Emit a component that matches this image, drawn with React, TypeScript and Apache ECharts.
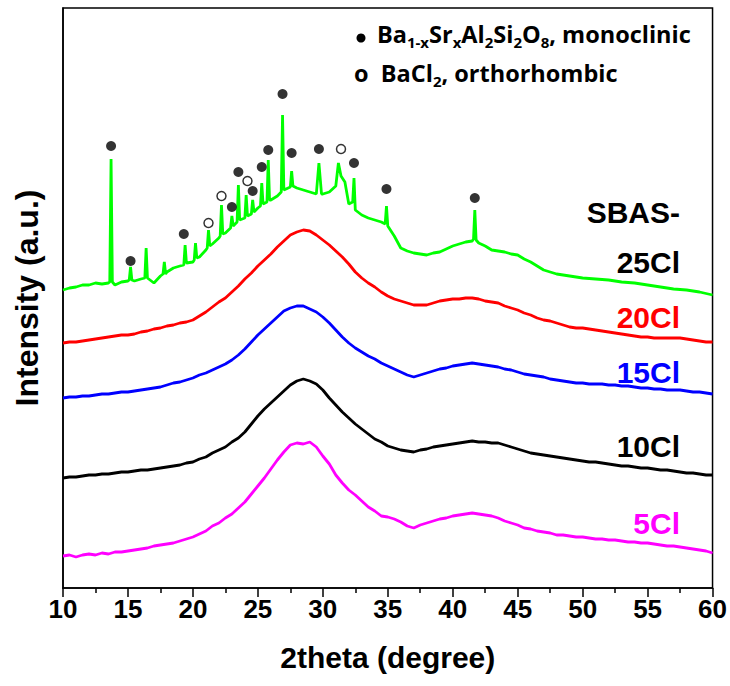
import React, { useEffect, useRef } from "react";
import * as echarts from "echarts";

// 2theta grid (degree) shared by the four smooth patterns
const twoTheta = [
  10, 10.5, 11, 11.5, 12, 12.5, 13, 13.5, 14, 14.5, 15, 15.5, 16, 16.5, 17, 17.5, 18, 18.5, 19, 19.5,
  20, 20.5, 21, 21.5, 22, 22.5, 23, 23.5, 24, 24.5, 25, 25.5, 26, 26.5, 27, 27.5, 28, 28.5, 29, 29.5,
  30, 30.5, 31, 31.5, 32, 32.5, 33, 33.5, 34, 34.5, 35, 35.5, 36, 36.5, 37, 37.5, 38, 38.5, 39, 39.5,
  40, 40.5, 41, 41.5, 42, 42.5, 43, 43.5, 44, 44.5, 45, 45.5, 46, 46.5, 47, 47.5, 48, 48.5, 49, 49.5,
  50, 50.5, 51, 51.5, 52, 52.5, 53, 53.5, 54, 54.5, 55, 55.5, 56, 56.5, 57, 57.5, 58, 58.5, 59, 59.5, 60,
];

const cl5 = [
  32, 33, 31, 33, 34, 33, 35, 34, 36, 36, 37, 38, 39, 40, 42, 43, 44, 45, 47, 49,
  51, 54, 57, 62, 65, 70, 74, 80, 86, 94, 102, 110, 119, 128, 136, 143, 145, 144, 146, 141,
  132, 124, 113, 105, 98, 93, 87, 81, 77, 72, 71, 69, 66, 62, 60, 63, 65, 67, 69, 70,
  72, 73, 74, 75, 74, 73, 72, 70, 67, 65, 63, 60, 59, 57, 56, 55, 53, 53, 52, 51,
  51, 50, 49, 49, 48, 48, 47, 46, 46, 45, 45, 44, 43, 42, 42, 41, 40, 39, 38, 37, 35,
];

const cl10 = [
  110, 111, 111, 112, 113, 113, 114, 114, 115, 116, 116, 117, 118, 118, 119, 120, 121, 122, 123, 125,
  126, 129, 131, 135, 138, 141, 146, 150, 156, 164, 172, 179, 185, 191, 197, 203, 207, 209, 207, 204,
  198, 190, 183, 176, 170, 164, 159, 154, 149, 146, 142, 140, 138, 137, 136, 138, 139, 141, 142, 143,
  144, 145, 146, 147, 146, 146, 145, 145, 143, 141, 139, 137, 135, 134, 133, 132, 131, 130, 129, 128,
  127, 126, 126, 125, 124, 123, 122, 122, 121, 120, 120, 119, 118, 118, 117, 116, 115, 115, 114, 113, 113,
];

const cl15 = [
  190, 191, 191, 192, 192, 193, 194, 194, 195, 196, 196, 197, 198, 199, 200, 201, 203, 205, 206, 208,
  210, 213, 215, 218, 221, 224, 228, 233, 239, 246, 253, 259, 265, 271, 277, 280, 282, 282, 279, 276,
  271, 265, 258, 251, 245, 240, 236, 232, 229, 225, 222, 219, 216, 213, 211, 213, 215, 217, 219, 220,
  222, 223, 224, 225, 224, 223, 222, 221, 219, 218, 216, 214, 213, 212, 211, 209, 208, 207, 206, 205,
  205, 204, 204, 204, 203, 203, 202, 202, 201, 200, 200, 199, 199, 198, 198, 198, 197, 196, 196, 195, 194,
];

const cl20 = [
  245, 246, 246, 247, 248, 249, 250, 251, 252, 253, 253, 254, 256, 257, 259, 260, 262, 263, 265, 266,
  268, 272, 276, 281, 286, 290, 296, 302, 309, 315, 322, 328, 334, 341, 347, 353, 356, 358, 357, 353,
  348, 343, 337, 331, 324, 316, 310, 305, 301, 296, 292, 289, 287, 285, 283, 283, 283, 285, 287, 288,
  289, 289, 290, 290, 289, 287, 286, 285, 282, 280, 278, 275, 273, 270, 268, 267, 265, 263, 261, 260,
  260, 259, 258, 257, 256, 255, 254, 253, 252, 251, 251, 250, 250, 250, 250, 250, 249, 248, 247, 246, 246,
];

// 25Cl pattern has sharp crystalline reflections, so it has its own 2theta list
const theta25 = [
  10, 10.5, 11, 11.5, 12, 12.5, 13, 13.5, 13.6, 13.7, 13.8, 14, 14.5, 15, 15.1, 15.2, 15.3, 15.5, 16, 16.3,
  16.4, 16.5, 17, 17.5, 17.7, 17.8, 17.9, 18, 18.5, 19, 19.3, 19.4, 19.5, 20, 20.1, 20.2, 20.3, 20.5, 21, 21.1,
  21.2, 21.3, 21.5, 22, 22.1, 22.2, 22.3, 22.5, 22.9, 23, 23.1, 23.4, 23.5, 23.6, 24, 24.1, 24.2, 24.5, 24.6, 24.7,
  25, 25.2, 25.3, 25.4, 25.7, 25.8, 25.9, 26, 26.5, 26.8, 26.9, 27, 27.5, 27.6, 27.7, 28, 28.5, 29, 29.5, 29.7,
  29.9, 30, 30.5, 31, 31.2, 31.4, 31.7, 32, 32.3, 32.4, 32.5, 33, 33.5, 34, 34.5, 34.8, 34.9, 35, 35.5, 36,
  36.5, 37, 37.5, 38, 38.5, 39, 39.5, 40, 40.5, 41, 41.5, 41.6, 41.7, 41.8, 42, 42.5, 43, 43.5, 44, 44.5,
  45, 45.5, 46, 46.5, 47, 47.5, 48, 49, 50, 51, 52, 53, 54, 55, 56, 57, 58, 59, 60,
];
const cl25 = [
  298, 300, 301, 303, 303, 305, 304, 305, 306, 429, 306, 303, 306, 307, 308, 321, 308, 307, 309, 310,
  340, 310, 305, 312, 314, 326, 314, 316, 320, 322, 323, 343, 325, 326, 328, 345, 330, 331, 338, 340,
  358, 342, 344, 350, 352, 383, 354, 355, 360, 372, 362, 366, 403, 368, 370, 393, 372, 374, 388, 376,
  380, 382, 405, 384, 386, 428, 388, 388, 392, 396, 473, 398, 401, 417, 402, 400, 398, 396, 394, 425,
  394, 394, 396, 402, 425, 412, 406, 384, 386, 410, 378, 373, 370, 368, 366, 364, 382, 362, 352, 340,
  337, 335, 334, 333, 335, 336, 339, 342, 344, 346, 347, 349, 378, 348, 345, 342, 338, 337, 336, 334,
  333, 329, 326, 322, 318, 316, 314, 312, 310, 309, 308, 306, 305, 303, 301, 299, 298, 296, 293,
];

// phase markers: Ba1-xSrxAl2Si2O8 (filled) and BaCl2 (open)
const monoTheta = [13.7, 15.2, 19.3, 23.0, 23.5, 24.6, 25.3, 25.8, 26.9, 27.6, 29.7, 32.4, 34.9, 41.7];
const monoMark = [442, 327, 354, 381, 416, 397, 421, 438, 494, 435, 439, 425, 399, 390];
const orthoTheta = [21.2, 22.2, 24.2, 31.4];
const orthoMark = [365, 392, 407, 439];

const xTicks = [10, 15, 20, 25, 30, 35, 40, 45, 50, 55, 60];

const sampleNames = ["25Cl", "20Cl", "15Cl", "10Cl", "5Cl"];
const sampleColors = ["#00ff00", "#ff0000", "#0000ff", "#000000", "#ff00ff"];

const pairs = (xs: number[], ys: number[]) => xs.map((x, i) => [x, ys[i]]);

export default function App() {
  const ref = useRef<HTMLDivElement>(null);
  useEffect(() => {
    document.body.style.margin = "0";
    const chart = echarts.init(ref.current!, null, { renderer: "svg" });
    const curves = [
      pairs(theta25, cl25),
      pairs(twoTheta, cl20),
      pairs(twoTheta, cl15),
      pairs(twoTheta, cl10),
      pairs(twoTheta, cl5),
    ];
    const lab = (text: string, y: number, color: string) => ({
      type: "text",
      x: 680,
      y,
      style: {
        text,
        fill: color,
        font: 'bold 30px "Liberation Sans", Arial, sans-serif',
        textAlign: "right",
        textVerticalAlign: "middle",
        align: "right",
        verticalAlign: "middle",
      },
    });
    const legFont = '"Open Sans", "Noto Sans", sans-serif';
    const legRich = {
      m: { fontFamily: legFont, fontWeight: "bold", fontSize: 23.5, fill: "#000", verticalAlign: "top" },
      s: { fontFamily: legFont, fontWeight: "bold", fontSize: 15, fill: "#000", verticalAlign: "top", padding: [12, 0, 0, 0] },
    };
    chart.setOption({
      animation: false,
      grid: { left: 63, right: 17, top: 8, bottom: 98, show: true, borderColor: "#000", borderWidth: 1.5 },
      xAxis: {
        type: "value",
        min: 10,
        max: 60,
        interval: 5,
        name: "2theta (degree)",
        nameLocation: "middle",
        nameGap: 54,
        nameTextStyle: { fontFamily: '"Liberation Sans", Arial', fontWeight: "bold", fontSize: 30, color: "#000" },
        axisLine: { show: true, onZero: false, lineStyle: { color: "#000", width: 1.5 } },
        axisTick: { show: true, inside: false, length: 9, lineStyle: { color: "#000", width: 1.5 } },
        minorTick: { show: true, splitNumber: 2, length: 5, lineStyle: { color: "#000", width: 1.5 } },
        splitLine: { show: false },
        axisLabel: {
          margin: 8,
          fontFamily: '"Liberation Sans", Arial',
          fontWeight: "bold",
          fontSize: 26,
          color: "#000",
          formatter: (v: number) => (xTicks.includes(v) ? String(v) : ""),
        },
      },
      yAxis: {
        type: "value",
        min: 0,
        max: 580,
        name: "Intensity (a.u.)",
        nameLocation: "middle",
        nameGap: 20,
        nameTextStyle: { fontFamily: '"Liberation Sans", Arial', fontWeight: "bold", fontSize: 32, color: "#000" },
        axisLine: { show: true, lineStyle: { color: "#000", width: 1.5 } },
        axisTick: { show: false },
        axisLabel: { show: false },
        splitLine: { show: false },
      },
      series: [
        ...curves.map((d, i) => ({
          type: "line",
          name: sampleNames[i],
          data: d,
          showSymbol: false,
          symbol: "none",
          lineStyle: { color: sampleColors[i], width: 2.8 },
          z: 2 + i,
        })),
        {
          type: "scatter",
          name: "monoclinic",
          data: pairs(monoTheta, monoMark),
          symbol: "circle",
          symbolSize: 10,
          itemStyle: { color: "#000" },
          z: 10,
        },
        {
          type: "scatter",
          name: "orthorhombic",
          data: pairs(orthoTheta, orthoMark),
          symbol: "circle",
          symbolSize: 9,
          itemStyle: { color: "#fff", borderColor: "#000", borderWidth: 1.5 },
          z: 10,
        },
      ],
      graphic: [
        { type: "circle", shape: { cx: 361, cy: 38, r: 4.5 }, style: { fill: "#000" } },
        {
          type: "text",
          x: 377,
          y: 22,
          style: {
            text: "{m|Ba}{s|1-x}{m|Sr}{s|x}{m|Al}{s|2}{m|Si}{s|2}{m|O}{s|8}{m|, monoclinic}",
            rich: legRich,
          },
        },
        {
          type: "text",
          x: 354,
          y: 61,
          style: {
            text: "{m|o  BaCl}{s|2}{m|, orthorhombic}",
            rich: legRich,
          },
        },
        lab("SBAS-", 212, "#000"),
        lab("25Cl", 262, "#000"),
        lab("20Cl", 317, "#ff0000"),
        lab("15Cl", 372, "#0000ff"),
        lab("10Cl", 446, "#000"),
        lab("5Cl", 523, "#ff00ff"),
      ],
    });
    return () => chart.dispose();
  }, []);
  return <div ref={ref} style={{ width: 730, height: 686 }} />;
}
